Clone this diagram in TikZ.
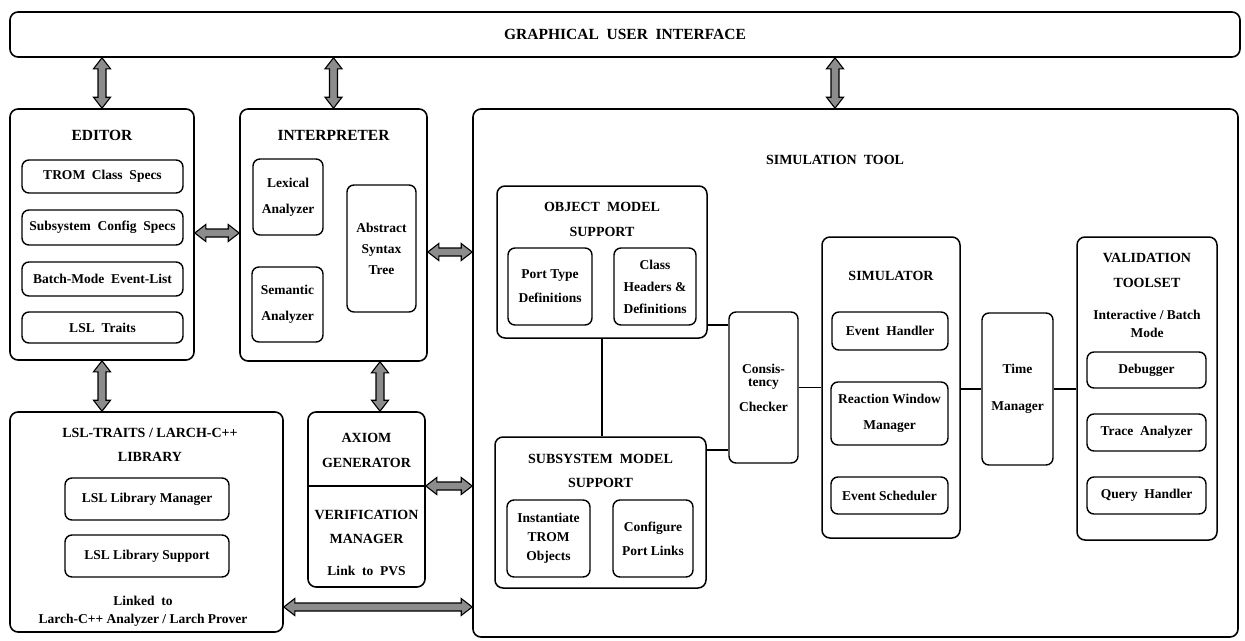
\documentclass[tikz,border=0pt]{standalone}
\usepackage{fontspec}
\setmainfont{Liberation Serif}
\usetikzlibrary{calc}

% text sizes
\newcommand\bigttl{\fontsize{15.5}{18}\selectfont\bfseries}
\newcommand\midttl{\fontsize{14}{17}\selectfont\bfseries}
\newcommand\smltxt{\fontsize{13.5}{15}\selectfont\bfseries}

\tikzset{
  box/.style={draw, line width=1.6pt, rounded corners=8pt, inner sep=0pt},
  sub/.style={draw, line width=1.4pt, rounded corners=7pt, inner sep=0pt,
    font=\smltxt, align=center},
  ttl/.style={font=\midttl, align=center, inner sep=0pt},
  txt/.style={font=\smltxt, align=center, inner sep=0pt},
  link/.style={draw, line width=1.6pt},
  % broad double-headed block arrow between two points
  fat/.style={draw=black, line width=1.1pt, fill=black!45, line join=miter,
    to path={
      -- ($(\tikztostart)!11pt!(\tikztotarget)!8.5pt!90:(\tikztotarget)$)
      -- ($(\tikztostart)!11pt!(\tikztotarget)!4pt!90:(\tikztotarget)$)
      -- ($(\tikztotarget)!11pt!(\tikztostart)!4pt!-90:(\tikztostart)$)
      -- ($(\tikztotarget)!11pt!(\tikztostart)!8.5pt!-90:(\tikztostart)$)
      -- (\tikztotarget)
      -- ($(\tikztotarget)!11pt!(\tikztostart)!8.5pt!90:(\tikztostart)$)
      -- ($(\tikztotarget)!11pt!(\tikztostart)!4pt!90:(\tikztostart)$)
      -- ($(\tikztostart)!11pt!(\tikztotarget)!4pt!-90:(\tikztotarget)$)
      -- ($(\tikztostart)!11pt!(\tikztotarget)!8.5pt!-90:(\tikztotarget)$)
      -- cycle}},
}

\begin{document}
\begin{tikzpicture}[x=1pt, y=-1pt]
\useasboundingbox (0,0) rectangle (1245,640);

% ---------- top bar ----------
\node[box, minimum width=1230pt, minimum height=45pt, font=\bigttl] (gui) at (625,34.5)
  {GRAPHICAL\ \ USER\ \ INTERFACE};

% ---------- editor ----------
\node[box, minimum width=184pt, minimum height=251pt] (ed) at (102,234.5) {};
\node[font=\bigttl, inner sep=0pt] (edT) at (102,135) {EDITOR};
\node[sub, minimum width=161pt, minimum height=33pt] (trom) at (102.5,176.5) {TROM\ \ Class\ \ Specs};
\node[sub, minimum width=161pt, minimum height=35pt] (cfg) at (102.5,227.5) {Subsystem\ \ Config\ \ Specs};
\node[sub, minimum width=161pt, minimum height=34pt] (bat) at (102.5,279) {Batch-Mode\ \ Event-List};
\node[sub, minimum width=161pt, minimum height=31pt] (trt) at (102.5,327.5) {LSL\ \ Traits};

% ---------- interpreter ----------
\node[box, minimum width=187pt, minimum height=252pt] (int) at (333.5,235) {};
\node[font=\bigttl, inner sep=0pt] (intT) at (333.5,135) {INTERPRETER};
\node[sub, minimum width=70pt, minimum height=76pt] (lex) at (288,197) {Lexical\\[11pt]Analyzer};
\node[sub, minimum width=71pt, minimum height=75pt] (sem) at (287.5,304.5) {Semantic\\[11pt]Analyzer};
\node[sub, minimum width=69pt, minimum height=127pt] (ast) at (381.5,248.5) {Abstract\\[6pt]Syntax\\[6pt]Tree};

% ---------- library ----------
\node[box, minimum width=273pt, minimum height=220pt] (lsl) at (146.5,522) {};
\node[ttl] (lslT) at (150,445) {LSL-TRAITS / LARCH-C++\\[7pt]LIBRARY};
\node[sub, minimum width=164pt, minimum height=42pt] (lm) at (147,499) {LSL\ Library\ Manager};
\node[sub, minimum width=164pt, minimum height=42pt] (ls) at (147,556) {LSL\ Library\ Support};
\node[txt] (lnk) at (143,611) {Linked\ \ to\\[3pt]Larch-C++\ Analyzer / Larch Prover};

% ---------- axiom generator / verification manager ----------
\node[box, minimum width=117pt, minimum height=175pt] (axm) at (366.5,499.5) {};
\draw[link] ([yshift=13.5pt]axm.west) -- ([yshift=13.5pt]axm.east);
\node[ttl] (axT) at (366.5,450.5) {AXIOM\\[8pt]GENERATOR};
\node[ttl] (vmT) at (366.5,527) {VERIFICATION\\[7pt]MANAGER};
\node[txt] (pvs) at (366.5,571) {Link\ \ to\ \ PVS};

% ---------- simulation tool ----------
\node[box, minimum width=765pt, minimum height=528pt] (sim) at (855.5,373) {};
\node[ttl] (simT) at (835,160) {SIMULATION\ \ TOOL};

\node[box, line width=1.5pt, minimum width=210pt, minimum height=152pt] (oms) at (602,262) {};
\node[ttl] (omsT) at (602,219.5) {OBJECT\ \ MODEL\\[8pt]SUPPORT};
\node[sub, minimum width=84pt, minimum height=77pt] (ptd) at (550,286.5) {Port Type\\[9pt]Definitions};
\node[sub, minimum width=82pt, minimum height=77pt] (chd) at (655,286.5) {Class\\[7pt]Headers \&\\[7pt]Definitions};

\node[box, line width=1.5pt, minimum width=211pt, minimum height=151pt] (sms) at (600.5,512.5) {};
\node[ttl] (smsT) at (600.5,471) {SUBSYSTEM\ \ MODEL\\[7pt]SUPPORT};
\node[sub, minimum width=83pt, minimum height=77pt] (ins) at (548.5,538.5) {Instantiate\\[4pt]TROM\\[4pt]Objects};
\node[sub, minimum width=80pt, minimum height=77pt] (cpl) at (653,538.5) {Configure\\[9pt]Port Links};

\node[sub, minimum width=69pt, minimum height=151pt] (chk) at (763.5,387.5)
  {Consis-\\[-2pt]tency\\[10pt]Checker};

\node[box, line width=1.5pt, minimum width=138pt, minimum height=301pt] (smr) at (891,387.5) {};
\node[ttl] (smrT) at (891,276) {SIMULATOR};
\node[sub, minimum width=116pt, minimum height=38pt] (evh) at (890,331) {Event\ \ Handler};
\node[sub, minimum width=117pt, minimum height=63pt] (rwm) at (889.5,413.5) {Reaction Window\\[11pt]Manager};
\node[sub, minimum width=117pt, minimum height=37pt] (evs) at (889.5,495.5) {Event Scheduler};

\node[sub, minimum width=71pt, minimum height=152pt] (tim) at (1017.5,389) {Time\\[22pt]Manager};

\node[box, line width=1.5pt, minimum width=140pt, minimum height=303pt] (val) at (1147,388.5) {};
\node[ttl] (valT) at (1147,270.5) {VALIDATION\\[8pt]TOOLSET};
\node[txt] (mode) at (1147,324) {Interactive / Batch\\[3pt]Mode};
\node[sub, minimum width=119pt, minimum height=36pt] (dbg) at (1146.5,370) {Debugger};
\node[sub, minimum width=119pt, minimum height=37pt] (tra) at (1146.5,432.5) {Trace\ \ Analyzer};
\node[sub, minimum width=119pt, minimum height=37pt] (qry) at (1146.5,495.5) {Query\ \ Handler};

% ---------- plain links inside the simulation tool ----------
\draw[link] (oms.south) -- (oms.south |- sms.north);
\draw[link] ([yshift=14pt]oms.south east) -- ([yshift=14pt]oms.south east -| chk.west);
\draw[link] ([yshift=-14pt]sms.north east) -- ([yshift=-14pt]sms.north east -| chk.west);
\draw[link] (chk.east) -- (chk.east -| smr.west);
\draw[link] (tim.west -| smr.east) -- (tim.west);
\draw[link] (tim.east) -- (tim.east -| val.west);

% ---------- block arrows ----------
\coordinate (gA) at (gui.south -| ed.north);
\coordinate (gB) at (gui.south -| int.north);
\coordinate (gC) at (gui.south -| simT);
\coordinate (gCs) at (sim.north -| simT);
\coordinate (eI) at (ed.east |- 0,233);
\coordinate (eIs) at (int.west |- 0,233);
\coordinate (iS) at (int.east |- 0,252);
\coordinate (iSs) at (sim.west |- 0,252);
\coordinate (eL) at (lsl.north -| ed.south);
\coordinate (iA) at (int.south -| 380,0);
\coordinate (iAs) at (axm.north -| 380,0);
\coordinate (aS) at ([yshift=13.5pt]axm.east);
\coordinate (aSs) at (aS -| sim.west);
\coordinate (lS) at (lsl.east |- 0,607);
\coordinate (lSs) at (sim.west |- 0,607);

\draw[fat] (gA) to (ed.north);
\draw[fat] (gB) to (int.north);
\draw[fat] (gC) to (gCs);
\draw[fat] (eI) to (eIs);
\draw[fat] (iS) to (iSs);
\draw[fat] (ed.south) to (eL);
\draw[fat] (iA) to (iAs);
\draw[fat] (aS) to (aSs);
\draw[fat] (lS) to (lSs);
\end{tikzpicture}
\end{document}
